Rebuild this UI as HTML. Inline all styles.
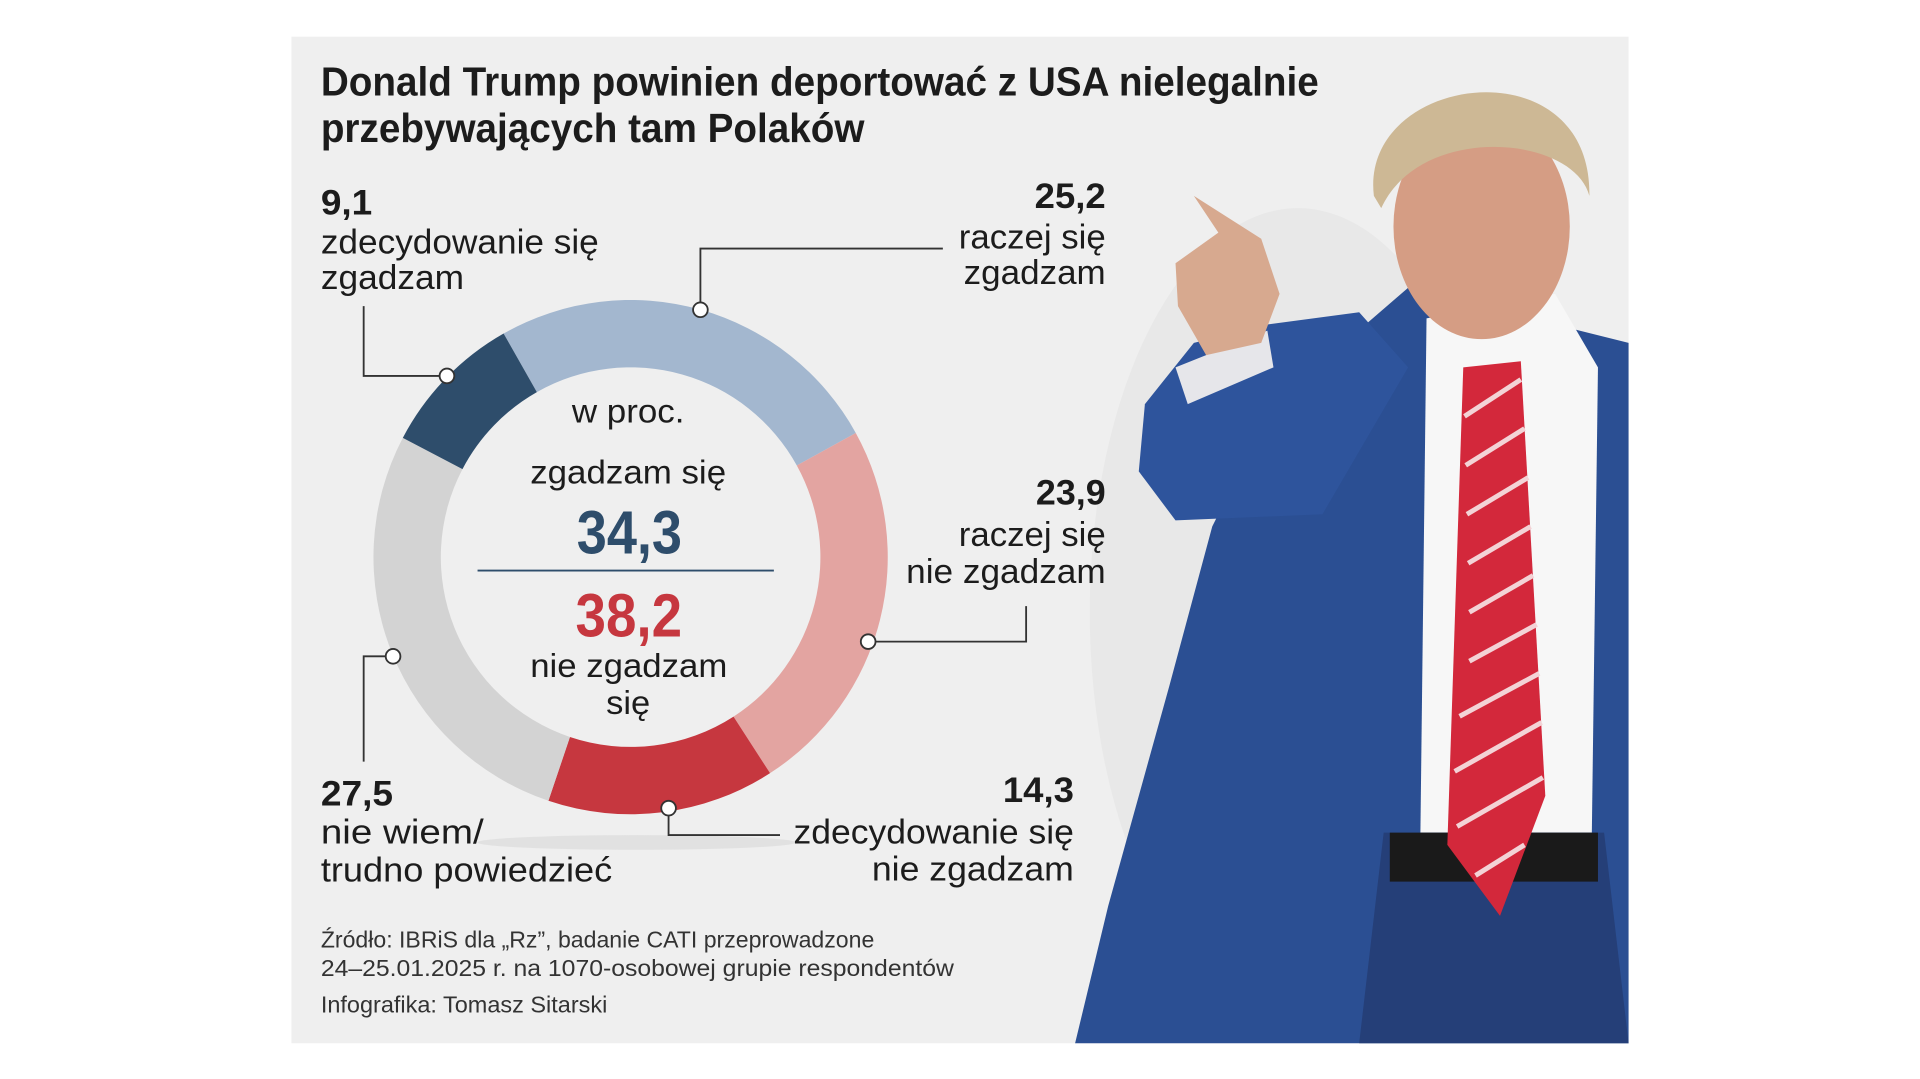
<!DOCTYPE html>
<html><head><meta charset="utf-8"><style>
html,body{margin:0;padding:0;background:#fff;width:1920px;height:1079px;overflow:hidden}
svg{display:block}
text{font-family:"Liberation Sans Narrow","Liberation Sans",sans-serif;fill:#1c1c1c}
</style></head><body>
<svg id="chart" width="1920" height="1079" viewBox="0 0 1568 881.2" preserveAspectRatio="none" xmlns="http://www.w3.org/2000/svg">
<rect x="238" y="30" width="1092" height="822" fill="#efefef"/>
<ellipse cx="520" cy="688" rx="130" ry="6" fill="#dcdcdc" opacity="0.7"/>
<g>
<text x="262" y="78" font-size="33" font-weight="bold" textLength="815" lengthAdjust="spacingAndGlyphs">Donald Trump powinien deportować z USA nielegalnie</text>
<text x="262" y="116" font-size="33" font-weight="bold" textLength="444" lengthAdjust="spacingAndGlyphs">przebywających tam Polaków</text>
</g>
<g>
<ellipse cx="1060" cy="500" rx="170" ry="330" fill="#e2e2e2" opacity="0.6"/>
<polygon points="1150,235 1330,280 1330,852 878,852 905,740 955,560 990,430 1040,330" fill="#2b4f93"/>
<polygon points="1165,260 1270,240 1305,300 1300,680 1160,680" fill="#f7f7f7"/>
<polygon points="1130,680 1310,680 1330,852 1110,852" fill="#253f78"/>
<rect x="1135" y="680" width="170" height="40" fill="#1a1a1a"/>
<polygon points="1195,300 1242,295 1262,650 1225,748 1182,690" fill="#d3283b"/>
<g stroke="#f3d3d6" stroke-width="4">
<line x1="1196" y1="340" x2="1242" y2="310"/><line x1="1197" y1="380" x2="1245" y2="350"/><line x1="1198" y1="420" x2="1248" y2="390"/><line x1="1199" y1="460" x2="1250" y2="430"/><line x1="1200" y1="500" x2="1252" y2="470"/><line x1="1200" y1="540" x2="1255" y2="510"/><line x1="1192" y1="585" x2="1257" y2="550"/><line x1="1188" y1="630" x2="1259" y2="590"/><line x1="1190" y1="675" x2="1260" y2="635"/><line x1="1205" y1="715" x2="1245" y2="690"/>
</g>
<polygon points="935,330 975,280 1035,265 1110,255 1150,300 1080,420 960,425 930,385" fill="#2e549c"/>
<polygon points="960,300 1035,270 1040,300 970,330" fill="#e6e6ea"/>
<polygon points="975,160 1030,195 1045,240 1030,280 985,290 962,250 960,215 995,190" fill="#d7a98f"/>
<ellipse cx="1210" cy="185" rx="72" ry="92" fill="#d59d84"/>
<path d="M1122,160 C1110,60 1300,35 1298,160 C1285,110 1160,100 1128,170 Z" fill="#cdb895"/>
</g>
<g id="donut"></g>
<g fill="none" stroke="#333" stroke-width="1.5">
<polyline points="365,307 297,307 297,250"/>
<polyline points="572,253 572,203 770,203"/>
<polyline points="709,524 838,524 838,495"/>
<polyline points="546,660 546,682 637,682"/>
<polyline points="321,536 297,536 297,622"/>
</g>
<g fill="#fff" stroke="#333" stroke-width="1.5">
<circle cx="365" cy="307" r="6"/><circle cx="572" cy="253" r="6"/><circle cx="709" cy="524" r="6"/><circle cx="546" cy="660" r="6"/><circle cx="321" cy="536" r="6"/>
</g>
<g>
<text x="467" y="345" font-size="27" textLength="92" lengthAdjust="spacingAndGlyphs">w proc.</text>
<text x="433" y="395" font-size="27" textLength="160" lengthAdjust="spacingAndGlyphs">zgadzam się</text>
<text x="471" y="452" font-size="50" font-weight="bold" style="fill:#2e4d6b" textLength="86" lengthAdjust="spacingAndGlyphs">34,3</text>
<line x1="390" y1="466" x2="632" y2="466" stroke="#2e4d6b" stroke-width="1.5"/>
<text x="470" y="520" font-size="50" font-weight="bold" style="fill:#c6373f" textLength="87" lengthAdjust="spacingAndGlyphs">38,2</text>
<text x="433" y="553" font-size="27" textLength="161" lengthAdjust="spacingAndGlyphs">nie zgadzam</text>
<text x="495" y="583" font-size="27" textLength="36" lengthAdjust="spacingAndGlyphs">się</text>
</g>
<g font-size="28">
<text x="262" y="175" font-size="29" font-weight="bold" textLength="42" lengthAdjust="spacingAndGlyphs">9,1</text>
<text x="262" y="207" textLength="227" lengthAdjust="spacingAndGlyphs">zdecydowanie się</text>
<text x="262" y="236" textLength="117" lengthAdjust="spacingAndGlyphs">zgadzam</text>
<text x="845" y="170" font-size="29" font-weight="bold" textLength="58" lengthAdjust="spacingAndGlyphs">25,2</text>
<text x="783" y="203" textLength="120" lengthAdjust="spacingAndGlyphs">raczej się</text>
<text x="787" y="232" textLength="116" lengthAdjust="spacingAndGlyphs">zgadzam</text>
<text x="846" y="412" font-size="29" font-weight="bold" textLength="57" lengthAdjust="spacingAndGlyphs">23,9</text>
<text x="783" y="446" textLength="120" lengthAdjust="spacingAndGlyphs">raczej się</text>
<text x="740" y="476" textLength="163" lengthAdjust="spacingAndGlyphs">nie zgadzam</text>
<text x="819" y="655" font-size="29" font-weight="bold" textLength="58" lengthAdjust="spacingAndGlyphs">14,3</text>
<text x="648" y="689" textLength="229" lengthAdjust="spacingAndGlyphs">zdecydowanie się</text>
<text x="712" y="719" textLength="165" lengthAdjust="spacingAndGlyphs">nie zgadzam</text>
<text x="262" y="658" font-size="29" font-weight="bold" textLength="59" lengthAdjust="spacingAndGlyphs">27,5</text>
<text x="262" y="689" textLength="133" lengthAdjust="spacingAndGlyphs">nie wiem/</text>
<text x="262" y="720" textLength="238" lengthAdjust="spacingAndGlyphs">trudno powiedzieć</text>
</g>
<g>
<text x="262" y="774" font-size="19" textLength="452" lengthAdjust="spacingAndGlyphs" style="fill:#333">Źródło: IBRiS dla „Rz”, badanie CATI przeprowadzone</text>
<text x="262" y="797" font-size="19" textLength="517" lengthAdjust="spacingAndGlyphs" style="fill:#333">24–25.01.2025 r. na 1070-osobowej grupie respondentów</text>
<text x="262" y="827" font-size="19" textLength="234" lengthAdjust="spacingAndGlyphs" style="fill:#333">Infografika: Tomasz Sitarski</text>
</g>
</svg>
<script>
const categories = ["raczej się zgadzam","raczej się nie zgadzam","zdecydowanie się nie zgadzam","nie wiem/trudno powiedzieć","zdecydowanie się zgadzam"];
const values = [25.2, 23.9, 14.3, 27.5, 9.1];
const colors = ["#a3b7cf","#e3a4a1","#c6373f","#d3d3d3","#2e4d6b"];
const startDeg = -29.6;
const cx = 515, cy = 455, rOut = 210, rIn = 155;
const g = document.getElementById('donut');
const total = values.reduce((a,b)=>a+b,0);
function pt(r, deg){const a=(deg-90)*Math.PI/180;return [cx+r*Math.cos(a), cy+r*Math.sin(a)];}
let acc = startDeg;
values.forEach((v,i)=>{
  const a0 = acc, a1 = acc + v/total*360; acc = a1;
  const large = (a1-a0)>180?1:0;
  const p0=pt(rOut,a0),p1=pt(rOut,a1),p2=pt(rIn,a1),p3=pt(rIn,a0);
  const d=`M${p0[0]},${p0[1]} A${rOut},${rOut} 0 ${large} 1 ${p1[0]},${p1[1]} L${p2[0]},${p2[1]} A${rIn},${rIn} 0 ${large} 0 ${p3[0]},${p3[1]} Z`;
  const p=document.createElementNS('http://www.w3.org/2000/svg','path');
  p.setAttribute('d',d);p.setAttribute('fill',colors[i]);
  
  
  g.appendChild(p);
});
</script>
</body></html>
